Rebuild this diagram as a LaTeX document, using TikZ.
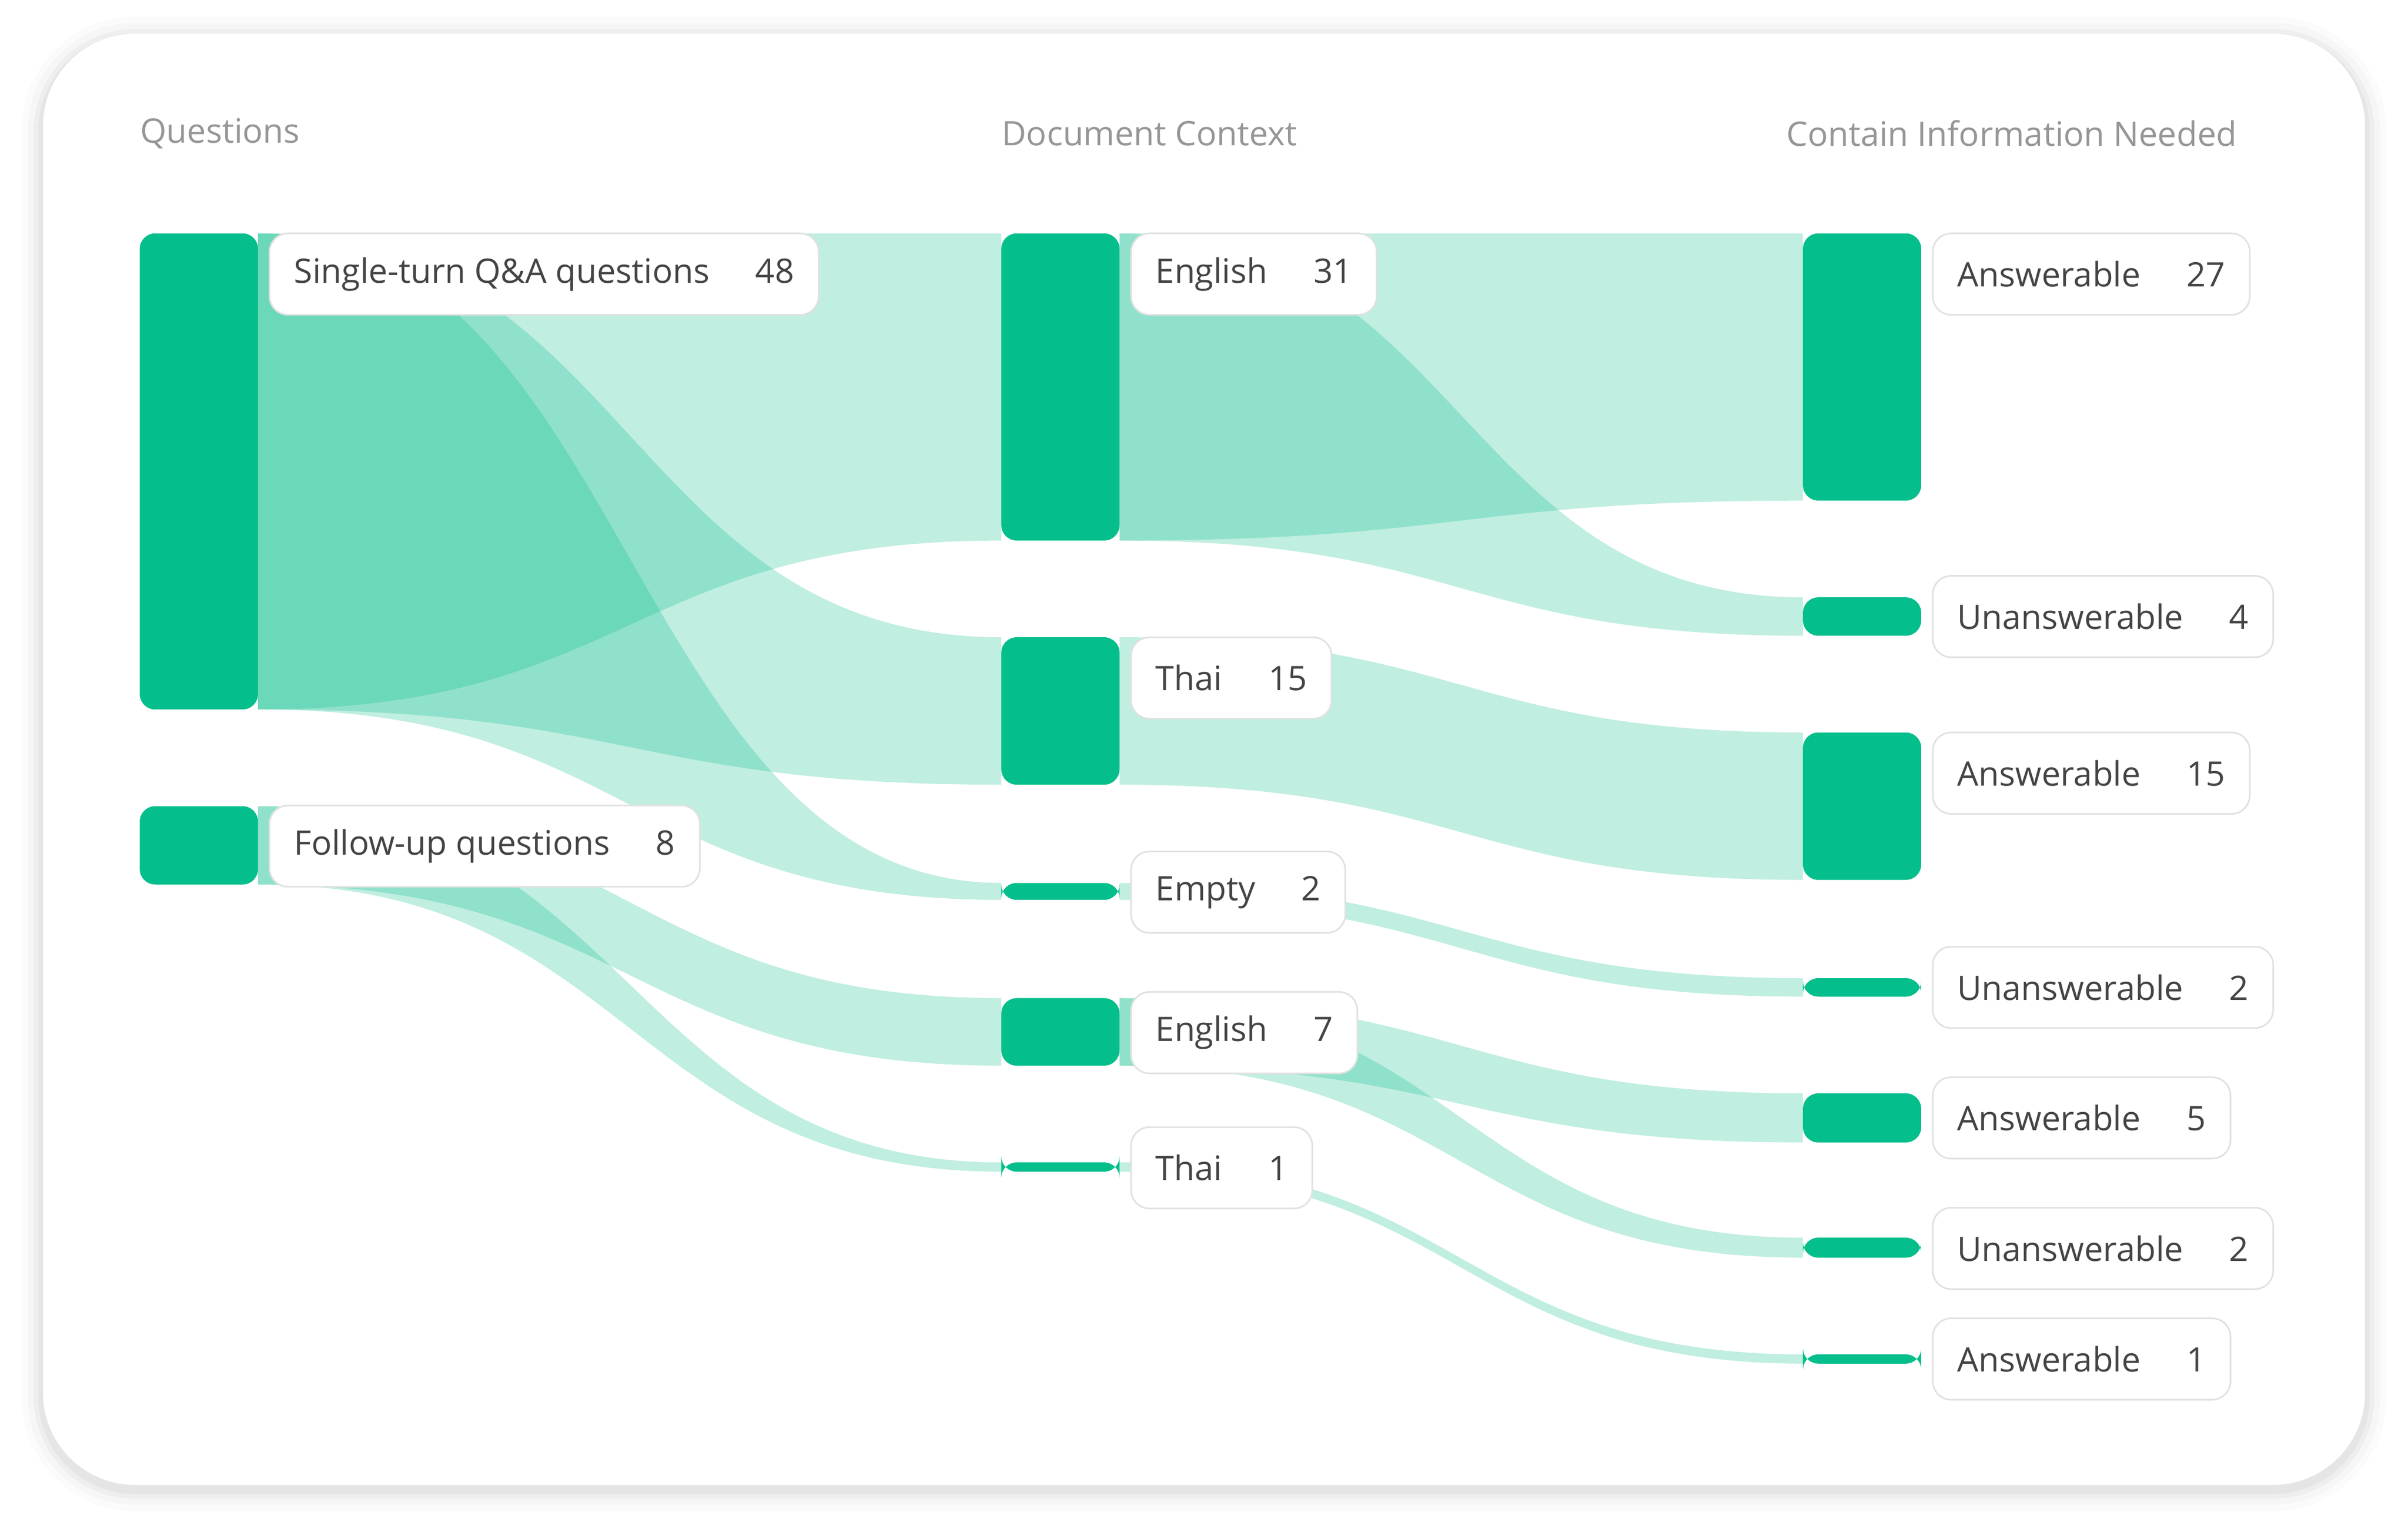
\documentclass[tikz,border=0pt]{standalone}
\usepackage{fontspec}
\setmainfont{Open Sans}
\usetikzlibrary{positioning}
\definecolor{barGreen}{RGB}{4,190,139}
\definecolor{txtGray}{RGB}{68,68,68}
\definecolor{hdGray}{RGB}{150,150,150}
\definecolor{boxLine}{RGB}{225,225,225}
% band between two columns: x1, source top/bottom, x2, target top/bottom
\newcommand{\flow}[6]{%
  \fill[barGreen,opacity=0.25] (#1,#2) .. controls ({(#1+#4)/2},#2) and ({(#1+#4)/2},#5) .. (#4,#5)
    -- (#4,#6) .. controls ({(#1+#4)/2},#6) and ({(#1+#4)/2},#3) .. (#1,#3) -- cycle;}
% bar of a node: name, x, top, bottom
\newcommand{\sbar}[4]{%
  \fill[barGreen,rounded corners=0.2cm] (#2,#3) rectangle ({#2+77},#4);
  \coordinate (#1) at ({#2+77},{(#3+#4)/2});}
\tikzset{
  lbl/.style={draw=boxLine,fill=white,rounded corners=0.24cm,line width=0.6pt,
    minimum height=1.06cm,inner xsep=0.32cm,text=txtGray,font=\fontsize{12.5}{14}\selectfont,anchor=west},
  hdr/.style={text=hdGray,font=\fontsize{12.5}{14}\selectfont,inner sep=0}
}
\newcommand{\num}[2]{#1\hspace{0.6cm}#2}
\begin{document}
\begin{tikzpicture}[x=0.02cm,y=-0.02cm]
\useasboundingbox (0,0) rectangle (1568,1000);
% card with soft shadow
\foreach \d/\o/\r in {14/0.015/1.48,10/0.02/1.4,6/0.03/1.32,3/0.04/1.26}
  \fill[black,opacity=\o,rounded corners=\r cm] (28-\d,22-\d+3) rectangle (1540+\d,967+\d+3);
\fill[white,rounded corners=1.2cm] (28,22) rectangle (1540,967);

% headers
\node[hdr,anchor=west] (hq) at (91,87) {Questions};
\node[hdr,anchor=west] (hd) at (652,87) {Document Context};
\node[hdr,anchor=east] (hc) at (1457,87) {Contain Information Needed};

% flows
\flow{168}{152}{462}{652}{152}{352}
\flow{168}{152}{462}{652}{415}{511}
\flow{168}{152}{462}{652}{575}{586}
\flow{168}{525}{576}{652}{650}{694}
\flow{168}{525}{576}{652}{757}{763}
\flow{729}{152}{352}{1174}{152}{326}
\flow{729}{152}{352}{1174}{389}{414}
\flow{729}{415}{511}{1174}{477}{573}
\flow{729}{575}{586}{1174}{637}{649}
\flow{729}{650}{694}{1174}{712}{744}
\flow{729}{650}{694}{1174}{806}{819}
\flow{729}{757}{763}{1174}{882}{888}

% bars
\sbar{st}{91}{152}{462}
\sbar{fu}{91}{525}{576}
\sbar{enA}{652}{152}{352}
\sbar{thA}{652}{415}{511}
\sbar{em}{652}{575}{586}
\sbar{enB}{652}{650}{694}
\sbar{thB}{652}{757}{763}
\sbar{ansA}{1174}{152}{326}
\sbar{unA}{1174}{389}{414}
\sbar{ansB}{1174}{477}{573}
\sbar{unB}{1174}{637}{649}
\sbar{ansC}{1174}{712}{744}
\sbar{unC}{1174}{806}{819}
\sbar{ansD}{1174}{882}{888}

% labels
\node[lbl] (lst) at (175,178.5) {\num{Single-turn Q\&A questions}{48}};
\node[lbl] (lfu) at (175,551) {\num{Follow-up questions}{8}};
\node[lbl] (lenA) at (736,178.5) {\num{English}{31}};
\node[lbl] (lthA) at (736,441.5) {\num{Thai}{15}};
\node[lbl] (lem) at (736,581) {\num{Empty}{2}};
\node[lbl] (lenB) at (736,672.5) {\num{English}{7}};
\node[lbl] (lthB) at (736,760.5) {\num{Thai}{1}};
\node[lbl] (lansA) at (1258,178.5) {\num{Answerable}{27}};
\node[lbl] (lunA) at (1258,401.5) {\num{Unanswerable}{4}};
\node[lbl] (lansB) at (1258,503.5) {\num{Answerable}{15}};
\node[lbl] (lunB) at (1258,643) {\num{Unanswerable}{2}};
\node[lbl] (lansC) at (1258,728) {\num{Answerable}{5}};
\node[lbl] (lunC) at (1258,813) {\num{Unanswerable}{2}};
\node[lbl] (lansD) at (1258,885) {\num{Answerable}{1}};
\end{tikzpicture}
\end{document}
